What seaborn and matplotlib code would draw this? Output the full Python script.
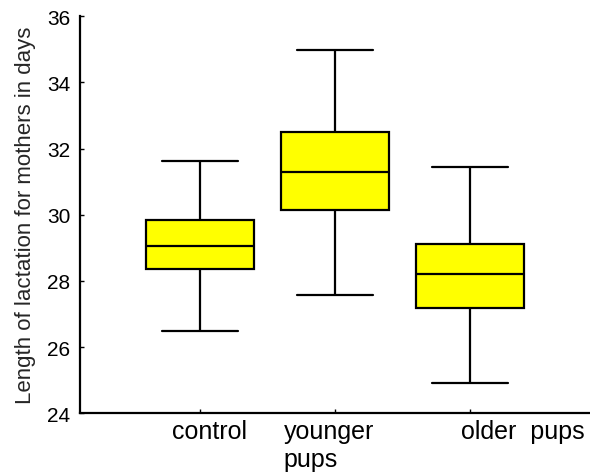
import matplotlib
matplotlib.use("Agg")
import matplotlib.pyplot as plt
import matplotlib.transforms as mtransforms
import seaborn as sns
import pandas as pd

groups = ["control", "younger\npups", "older  pups"]
lower_whisker = [26.49, 27.57, 24.92]
q1 = [28.35, 30.14, 27.19]
median = [29.07, 31.28, 28.21]
q3 = [29.85, 32.49, 29.12]
upper_whisker = [31.63, 34.99, 31.43]
y_ticks = [24, 26, 28, 30, 32, 34, 36]

rows = []
for g, lo, a, m, b, hi in zip(groups, lower_whisker, q1, median, q3, upper_whisker):
    for v in (lo, a, m, b, hi):
        rows.append({"group": g, "value": v})
df = pd.DataFrame(rows)

sns.set_style("ticks")
plt.rcParams["font.family"] = ["Liberation Sans", "DejaVu Sans"]

fig = plt.figure(figsize=(5.9, 4.77), dpi=100)
ax = fig.add_axes([80 / 590, 1 - 414.3 / 477, 510 / 590, 397 / 477])

sns.boxplot(data=df, x="group", y="value", order=groups, whis=(0, 100),
            width=0.8, color="#FFFF00", saturation=1, linecolor="black",
            linewidth=1.6, capwidths=0.57, ax=ax)

ax.set_xlim(-0.889, 2.889)
ax.set_ylim(24, 36)
ax.set_yticks(y_ticks)
ax.set_xlabel("")
ax.set_ylabel("Length of lactation for mothers in days", fontsize=16, labelpad=8)
for s in ("top", "right"):
    ax.spines[s].set_visible(False)
for s in ("left", "bottom"):
    ax.spines[s].set_linewidth(1.6)
    ax.spines[s].set_color("black")
ax.tick_params(axis="both", direction="in", length=3, width=1, colors="black")
ax.tick_params(axis="y", labelsize=15, pad=7)
ax.tick_params(axis="x", labelsize=18, pad=4)

offsets = [9, -6, -9]
labels = ax.get_xticklabels()
for lab, dx in zip(labels, offsets):
    lab.set_transform(lab.get_transform() + mtransforms.ScaledTranslation(dx / 100, 0, fig.dpi_scale_trans))
labels[1].set_multialignment("left")
labels[2].set_horizontalalignment("left")

fig.savefig("out.png", dpi=100)
